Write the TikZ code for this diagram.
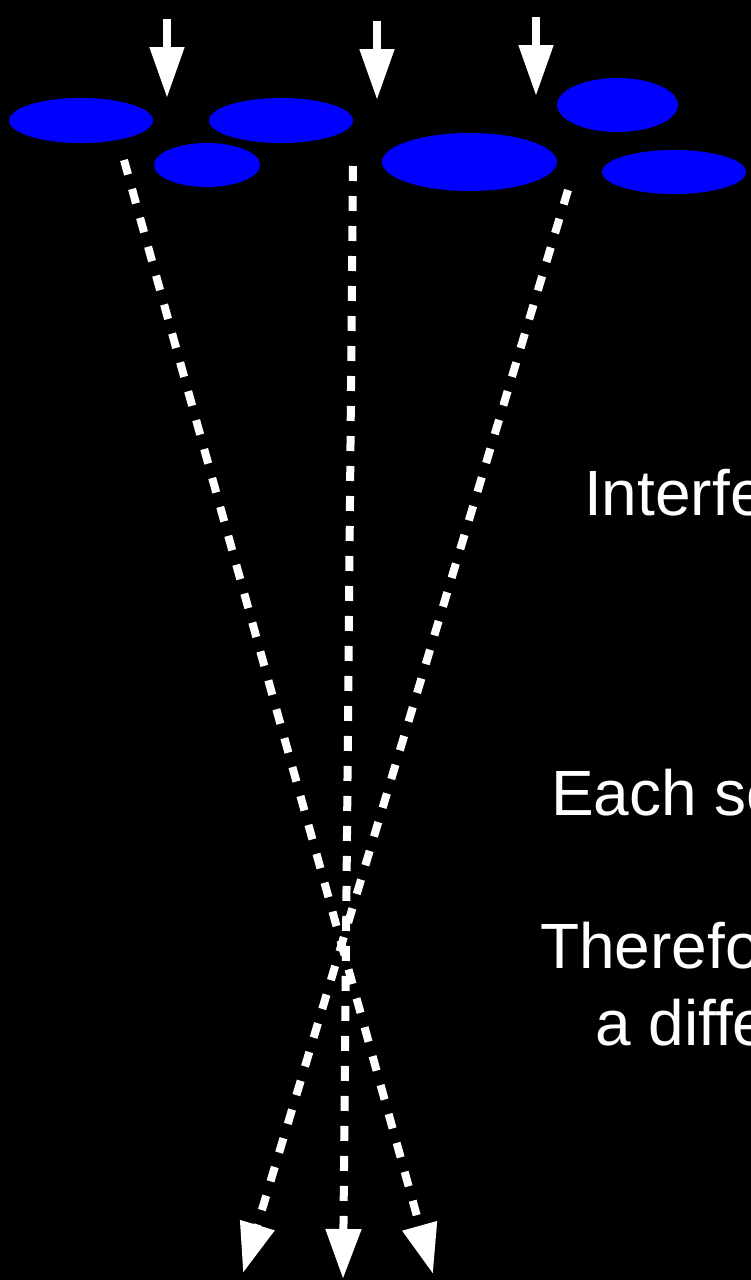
\documentclass[tikz,border=0pt]{standalone}
\usepackage{fontspec}
\setmainfont{Liberation Sans}
\usetikzlibrary{arrows.meta,shapes.geometric}
\begin{document}
\begin{tikzpicture}[x=1pt,y=-1pt,
  blob/.style={ellipse,fill={rgb,255:red,0;green,0;blue,255},draw=none,inner sep=0pt},
  inarrow/.style={draw=white,line width=8pt,-{Triangle[length=51pt,width=33pt]}},
  ray/.style={draw=white,line width=8pt,dash pattern=on 15pt off 15pt,-{Triangle[length=50pt,width=34pt]}},
  lbl/.style={text=white,anchor=base west,inner sep=0pt,font=\fontsize{64}{77}\selectfont}]
\useasboundingbox (0,0) rectangle (751,1280);
\clip (0,0) rectangle (751,1280);
\fill[black] (0,0) rectangle (751,1280);
% scatterers
\node[blob,minimum width=144pt,minimum height=45pt] (e1) at (81,120.5) {};
\node[blob,minimum width=144pt,minimum height=45pt] (e2) at (281,120.5) {};
\node[blob,minimum width=106pt,minimum height=44pt] (e3) at (207,165) {};
\node[blob,minimum width=175pt,minimum height=58pt] (e4) at (469.5,162) {};
\node[blob,minimum width=121pt,minimum height=54pt] (e5) at (617.5,105) {};
\node[blob,minimum width=144pt,minimum height=44pt] (e6) at (674,172) {};
% incoming arrows
\coordinate (i1s) at (167,19);  \coordinate (i1e) at (167,98);
\coordinate (i2s) at (377,21);  \coordinate (i2e) at (377,100);
\coordinate (i3s) at (536,17);  \coordinate (i3e) at (536,96);
\draw[inarrow] (i1s) -- (i1e);
\draw[inarrow] (i2s) -- (i2e);
\draw[inarrow] (i3s) -- (i3e);
% scattered rays
\coordinate (r1s) at (124,160); \coordinate (r1e) at (433,1274);
\coordinate (r2s) at (353,166); \coordinate (r2e) at (343,1279);
\coordinate (r3s) at (568,190); \coordinate (r3e) at (243,1273);
\draw[ray] (r1s) -- (r1e);
\draw[ray] (r2s) -- (r2e);
\draw[ray] (r3s) -- (r3e);
% text (cut off at the right edge)
\node[lbl] (t1) at (584,515) {Interfe};
\node[lbl] (t2) at (551,815) {Each sc};
\node[lbl] (t3) at (540,968) {Therefo};
\node[lbl] (t4) at (595,1045) {a diffe};
\end{tikzpicture}
\end{document}
